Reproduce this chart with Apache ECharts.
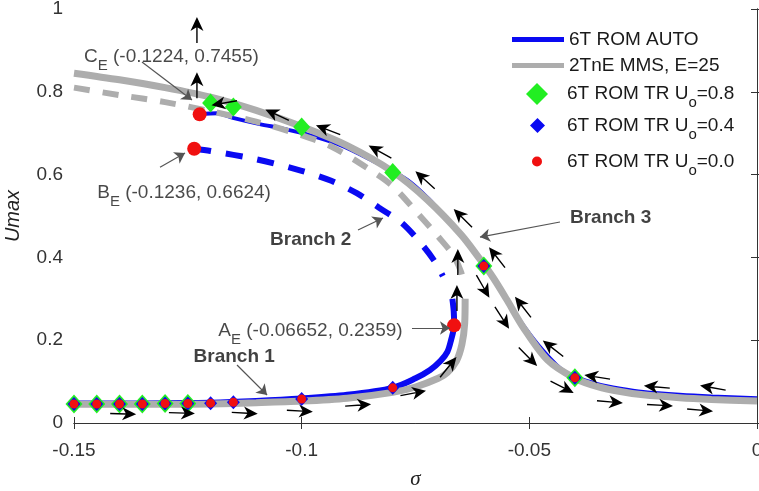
<!DOCTYPE html>
<html><head><meta charset="utf-8">
<script src="https://cdn.jsdelivr.net/npm/echarts@6/dist/echarts.min.js"></script>
<style>html,body{margin:0;padding:0;background:#fff}#c{width:759px;height:491px}</style>
</head><body><div id="c"></div>
<script>
// ---------- axis ticks ----------
const xTicks = [-0.15, -0.1, -0.05, 0];
const yTicks = [0, 0.2, 0.4, 0.6, 0.8, 1];

// ---------- 6T ROM AUTO curves [sigma, Umax] ----------
const autoUpper = [[-0.1224,0.7455],[-0.1186,0.748],[-0.1151,0.737],[-0.1092,0.722],[-0.1041,0.711],[-0.0988,0.697],[-0.0916,0.672],[-0.0850,0.637],[-0.0769,0.588],[-0.0720,0.540],[-0.0674,0.483],[-0.0624,0.418],[-0.0600,0.379],[-0.0578,0.348],[-0.0550,0.300],[-0.0521,0.248],[-0.0480,0.188],[-0.0433,0.133],[-0.0400,0.112],[-0.0350,0.094],[-0.0300,0.083],[-0.0250,0.075],[-0.0170,0.068],[-0.0100,0.064],[0,0.060]];
const autoLower = [[-0.15,0.047],[-0.14,0.047],[-0.13,0.048],[-0.12,0.049],[-0.11,0.053],[-0.10,0.059],[-0.09,0.068],[-0.08,0.085],[-0.075,0.108],[-0.0718,0.128],[-0.0695,0.150],[-0.068,0.172],[-0.0672,0.20],[-0.06652,0.2359],[-0.0666,0.27],[-0.0669,0.30]];
const autoUnstable = [[-0.1236,0.6624],[-0.12,0.657],[-0.11,0.637],[-0.10,0.609],[-0.0935,0.585],[-0.0879,0.555],[-0.083,0.52],[-0.078,0.483],[-0.0735,0.43],[-0.0707,0.389],[-0.069,0.355]];

// ---------- 2TnE MMS, E=25 curves ----------
const mmsUpper = [[-0.15,0.845],[-0.14,0.829],[-0.13,0.81],[-0.12,0.787],[-0.11,0.755],[-0.10,0.716],[-0.09,0.67],[-0.08,0.607],[-0.0725,0.54],[-0.065,0.455],[-0.0608,0.395],[-0.058,0.352],[-0.0549,0.297],[-0.0514,0.232],[-0.046,0.152],[-0.04,0.108],[-0.035,0.088],[-0.03,0.076],[-0.025,0.068],[-0.017,0.061],[-0.01,0.057],[0,0.053]];
const mmsLower = [[-0.15,0.045],[-0.13,0.045],[-0.12,0.046],[-0.11,0.049],[-0.10,0.053],[-0.09,0.06],[-0.08,0.074],[-0.075,0.087],[-0.07,0.108],[-0.068,0.122],[-0.066,0.15],[-0.0648,0.19],[-0.0642,0.24],[-0.0641,0.30]];
const mmsUnstable = [[-0.15,0.81],[-0.14,0.792],[-0.13,0.775],[-0.12,0.753],[-0.11,0.728],[-0.10,0.695],[-0.0935,0.668],[-0.0856,0.616],[-0.08,0.572],[-0.074,0.50],[-0.07,0.45],[-0.0667,0.405],[-0.065,0.365],[-0.0642,0.33]];

// ---------- time-response (TR) markers ----------
const trSigma = [-0.15,-0.145,-0.14,-0.135,-0.13,-0.125,-0.12,-0.115,-0.1,-0.08,-0.06,-0.04];
const trHighU = [0.046,0.046,0.046,0.046,0.047,0.047,0.773,0.763,0.715,0.605,0.379,0.109];
const trMidU  = [0.046,0.046,0.046,0.046,0.047,0.047,0.048,0.05,0.058,0.085,0.379,0.109];
const trZeroU = [0.046,0.046,0.046,0.046,0.047,0.047,0.048,0.05,0.058,0.085,0.379,0.109];

// ---------- equilibrium points C_E, B_E, A_E ----------
const eqSigma = [-0.1224, -0.1236, -0.06652];
const eqU = [0.7455, 0.6624, 0.2359];

// ---------- direction arrows (sigma, Umax, direction in degrees) ----------
const arrowSigma = [-0.123,-0.123,-0.117,-0.1054,-0.0942,-0.0828,-0.0729,-0.0646,-0.0571,-0.0657,-0.0659,-0.0678,-0.0755,-0.1392,-0.1263,-0.1125,-0.1004,-0.0876,-0.0602,-0.056,-0.0514,-0.0503,-0.0448,-0.0428,-0.0351,-0.022,-0.0097,-0.0323,-0.0213,-0.0125];
const arrowU     = [0.949,0.816,0.773,0.744,0.708,0.655,0.587,0.495,0.400,0.389,0.302,0.135,0.072,0.022,0.024,0.024,0.029,0.043,0.330,0.254,0.280,0.160,0.180,0.087,0.111,0.087,0.085,0.051,0.043,0.031];
const arrowDir   = [90,90,190,155,159,151,138,135,128,90,90,51,11,-2,-2,-3,-3,4,-60,-57,128,-45,142,-27,171,175,170,-5,-3,-5];

// ---------- annotations ----------
const annoText = ['{m|C}{s|E}{m| (-0.1224, 0.7455)}','{m|B}{s|E}{m| (-0.1236, 0.6624)}','{m|A}{s|E}{m| (-0.06652, 0.2359)}','{b|Branch 1}','{b|Branch 2}','{b|Branch 3}'];
const annoSigma = [-0.1478,-0.1449,-0.1183,-0.12375,-0.10695,-0.04107];
const annoU = [0.884,0.556,0.223,0.1594,0.442,0.4952];
const leaderStart = [[-0.13507,0.872],[-0.13111,0.618],[-0.07577,0.2295],[-0.1142,0.140],[-0.08763,0.466],[-0.04327,0.4855]];
const leaderEnd   = [[-0.12409,0.780],[-0.12562,0.652],[-0.06743,0.2295],[-0.1076,0.0676],[-0.08214,0.495],[-0.06084,0.449]];

const FONT = 'Liberation Sans, Arial, sans-serif';
const BLUE = '#0a0af2', GREY = '#adadad', GREEN = '#22ee22', RED = '#f01010';
const ARROW = 'path://M6.5,0 L13,14 L6.5,10 L0,14 Z M5.8,10 L7.2,10 L7.2,26 L5.8,26 Z';

const subRich = {
  m: {fontSize: 19, fontFamily: FONT, color: '#1a1a1a'},
  s: {fontSize: 15, fontFamily: FONT, color: '#1a1a1a', padding: [18, 0, 0, 0]},
  b: {fontSize: 19, fontFamily: FONT, color: '#111', fontWeight: 'bold'},
  g14: {width: 14}, g17: {width: 17}, g20: {width: 20}
};

const zip = (xs, ys) => xs.map((x, i) => [x, ys[i]]);

const chart = echarts.init(document.getElementById('c'), null, {renderer: 'canvas'});
const axisCommon = {
  axisLine: {show: true, lineStyle: {color: '#333', width: 1}},
  axisTick: {show: true, inside: true, length: 6, lineStyle: {color: '#333'}},
  splitLine: {show: false}
};
const legendBase = {orient: 'vertical', selectedMode: false, padding: 0,
  textStyle: {fontSize: 19, fontFamily: FONT, color: '#1a1a1a', rich: subRich}};
const trLegendFmt = gap => name => {
  const v = name.split('=')[1];
  return '{' + gap + '| }{m|6T ROM TR U}{s|o}{m|=' + v + '}';
};

chart.setOption({
  animation: false,
  backgroundColor: '#fff',
  grid: {left: 74, right: 2, top: 9, bottom: 68, containLabel: false, outerBoundsMode: 'none'},
  xAxis: [
    Object.assign({type: 'value', min: xTicks[0], max: xTicks[xTicks.length-1], interval: 0.05,
      name: 'σ', nameLocation: 'middle', nameGap: 46,
      nameTextStyle: {fontSize: 21, fontStyle: 'italic', fontFamily: 'Liberation Serif, serif', color: '#222'},
      axisLabel: {fontSize: 19, fontFamily: FONT, color: '#333', margin: 18,
        formatter: v => String(+v.toFixed(2))}}, axisCommon),
    Object.assign({type: 'value', position: 'top', min: xTicks[0], max: xTicks[xTicks.length-1], interval: 0.05,
      axisLabel: {show: false}}, axisCommon)
  ],
  yAxis: [
    Object.assign({type: 'value', min: yTicks[0], max: yTicks[yTicks.length-1], interval: 0.2,
      name: 'Umax', nameLocation: 'middle', nameGap: 51,
      nameTextStyle: {fontSize: 20, fontStyle: 'italic', fontFamily: FONT, color: '#222'},
      axisLabel: {fontSize: 19, fontFamily: FONT, color: '#333', margin: 11,
        formatter: v => String(+v.toFixed(1))}}, axisCommon),
    Object.assign({type: 'value', position: 'right', min: yTicks[0], max: yTicks[yTicks.length-1], interval: 0.2,
      axisLabel: {show: false}}, axisCommon)
  ],
  legend: [
    Object.assign({}, legendBase, {left: 512, top: 30, itemWidth: 52, itemHeight: 5, itemGap: 7, icon: 'rect',
      data: ['6T ROM AUTO', '2TnE MMS, E=25']}),
    Object.assign({}, legendBase, {left: 526, top: 83, itemWidth: 22, itemHeight: 22, icon: 'diamond',
      formatter: trLegendFmt('g14'), data: ['6T ROM TR Uo=0.8']}),
    Object.assign({}, legendBase, {left: 530, top: 116, itemWidth: 15, itemHeight: 15, icon: 'diamond',
      formatter: trLegendFmt('g17'), data: ['6T ROM TR Uo=0.4']}),
    Object.assign({}, legendBase, {left: 532, top: 152, itemWidth: 10, itemHeight: 10, icon: 'circle',
      formatter: trLegendFmt('g20'), data: ['6T ROM TR Uo=0.0']})
  ],
  series: [
    {name: 'AUTO unstable', type: 'line', z: 2, data: autoUnstable, smooth: 0.3, symbol: 'none', silent: true,
      itemStyle: {color: BLUE}, lineStyle: {color: BLUE, width: 6, type: [17, 15]}},
    {name: '6T ROM AUTO', type: 'line', z: 2, data: autoUpper, smooth: 0.3, symbol: 'none', silent: true,
      itemStyle: {color: BLUE}, lineStyle: {color: BLUE, width: 4}},
    {name: '6T ROM AUTO', type: 'line', z: 2, data: autoLower, smooth: 0.3, symbol: 'none', silent: true,
      itemStyle: {color: BLUE}, lineStyle: {color: BLUE, width: 6}},
    {name: 'MMS unstable', type: 'line', z: 3, data: mmsUnstable, smooth: 0.3, symbol: 'none', silent: true,
      itemStyle: {color: GREY}, lineStyle: {color: GREY, width: 6, type: [16, 13]}},
    {name: '2TnE MMS, E=25', type: 'line', z: 3, data: mmsUpper, smooth: 0.3, symbol: 'none', silent: true,
      itemStyle: {color: GREY}, lineStyle: {color: GREY, width: 7}},
    {name: '2TnE MMS, E=25', type: 'line', z: 3, data: mmsLower, smooth: 0.3, symbol: 'none', silent: true,
      itemStyle: {color: GREY}, lineStyle: {color: GREY, width: 7}},
    {name: '6T ROM TR Uo=0.8', type: 'scatter', z: 5, data: zip(trSigma, trHighU), symbol: 'diamond',
      symbolSize: [17, 19], silent: true, itemStyle: {color: GREEN, opacity: 1}},
    {name: '6T ROM TR Uo=0.4', type: 'scatter', z: 6, data: zip(trSigma, trMidU), symbol: 'diamond',
      symbolSize: [13, 14], silent: true, itemStyle: {color: BLUE, opacity: 1}},
    {name: '6T ROM TR Uo=0.0', type: 'scatter', z: 7, data: zip(trSigma, trZeroU), symbol: 'circle',
      symbolSize: 9, silent: true, itemStyle: {color: RED, opacity: 1}},
    {name: 'equilibria', type: 'scatter', z: 8, data: zip(eqSigma, eqU), symbol: 'circle',
      symbolSize: 14, silent: true, itemStyle: {color: RED, opacity: 1}},
    {name: 'arrows', type: 'scatter', z: 9, silent: true, symbol: ARROW, symbolSize: [13, 26],
      itemStyle: {color: '#000', opacity: 1},
      data: arrowSigma.map((s, i) => ({value: [s, arrowU[i]], symbolRotate: arrowDir[i] - 90}))},
    {name: 'leaders', type: 'lines', z: 10, coordinateSystem: 'cartesian2d', silent: true,
      symbol: ['none', 'arrow'], symbolSize: 10,
      lineStyle: {color: '#555', width: 1.2, opacity: 1},
      data: leaderStart.map((p, i) => ({coords: [p, leaderEnd[i]]}))},
    {name: 'annotations', type: 'scatter', z: 11, silent: true, symbolSize: 1,
      itemStyle: {color: 'rgba(0,0,0,0)'},
      label: {show: true, position: 'inside', align: 'left', verticalAlign: 'middle', rich: subRich,
        formatter: p => annoText[p.dataIndex]},
      data: zip(annoSigma, annoU)}
  ]
});
</script></body></html>
